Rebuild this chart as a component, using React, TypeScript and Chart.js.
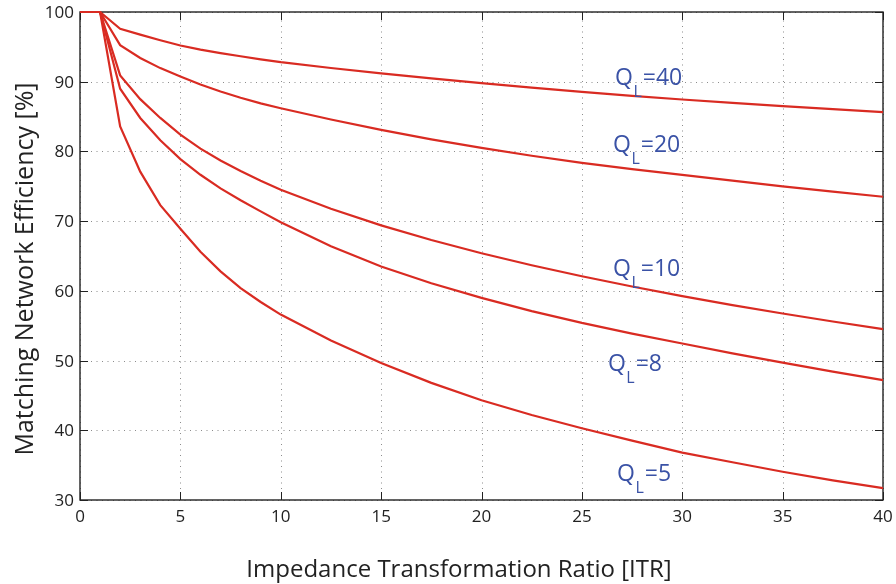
import { useEffect, useRef } from 'react';
import { Chart, registerables } from 'chart.js';

Chart.register(...registerables);

// Impedance transformation ratio (x values)
const itr = [0, 1, 2, 3, 4, 5, 6, 7, 8, 9, 10, 12.5, 15, 17.5, 20, 22.5, 25, 27.5, 30, 32.5, 35, 37.5, 40];

// Matching network efficiency [%] for each loaded Q
const effQL40 = [100, 100, 97.6, 96.75, 95.95, 95.2, 94.6, 94.1, 93.65, 93.2, 92.8, 91.97, 91.2, 90.48, 89.8, 89.16, 88.55, 87.98, 87.45, 86.97, 86.5, 86.07, 85.65];
const effQL20 = [100, 100, 95.25, 93.4, 91.95, 90.75, 89.6, 88.6, 87.7, 86.9, 86.2, 84.58, 83.1, 81.74, 80.5, 79.38, 78.35, 77.47, 76.65, 75.81, 75.0, 74.23, 73.5];
const effQL10 = [100, 100, 90.9, 87.5, 84.8, 82.4, 80.4, 78.7, 77.2, 75.8, 74.5, 71.78, 69.4, 67.29, 65.4, 63.68, 62.1, 60.63, 59.25, 57.96, 56.75, 55.6, 54.5];
const effQL8 = [100, 100, 89.0, 84.8, 81.6, 78.9, 76.65, 74.7, 73.0, 71.4, 69.85, 66.4, 63.5, 61.1, 59.0, 57.1, 55.4, 53.87, 52.45, 51.04, 49.7, 48.41, 47.2];
const effQL5 = [100, 100, 83.6, 77.1, 72.3, 68.9, 65.6, 62.8, 60.4, 58.4, 56.6, 52.87, 49.65, 46.8, 44.3, 42.19, 40.3, 38.52, 36.8, 35.42, 34.05, 32.82, 31.7];

const qlNames = ['40', '20', '10', '8', '5'];
const xTickValues = [0, 5, 10, 15, 20, 25, 30, 35, 40];
const yTickValues = [30, 40, 50, 60, 70, 80, 90, 100];
const xTickLabels = ['0', '5', '10', '15', '20', '25', '30', '35', '40'];
const yTickLabels = ['30', '40', '50', '60', '70', '80', '90', '100'];

const xTitle = 'Impedance Transformation Ratio [ITR]';
const yTitle = 'Matching Network Efficiency [%]';

// label anchors in data units (left edge of "Q", text baseline)
const labelAnchorX = [26.65, 26.55, 26.55, 26.3, 26.75];
const labelAnchorY = [89.5, 79.9, 62.1, 48.5, 32.75];

const FONT = "'Open Sans', 'DejaVu Sans', sans-serif";
const RED = '#d92b22';
const BLUE = '#3a52a6';
const INK = '#222222';

const framePlugin = {
  id: 'frame',
  beforeDatasetsDraw(chart: any) {
    const { ctx, chartArea: a, scales } = chart;
    const xs = scales.x;
    const ys = scales.y;
    ctx.save();
    // dotted grid
    ctx.strokeStyle = '#8c8c8c';
    ctx.lineWidth = 1;
    ctx.setLineDash([1, 4.5]);
    xTickValues.forEach((v) => {
      const px = Math.round(xs.getPixelForValue(v)) + 0.5;
      ctx.beginPath();
      ctx.moveTo(px, a.bottom);
      ctx.lineTo(px, a.top);
      ctx.stroke();
    });
    yTickValues.forEach((v) => {
      const py = Math.round(ys.getPixelForValue(v)) + 0.5;
      ctx.beginPath();
      ctx.moveTo(a.left, py);
      ctx.lineTo(a.right, py);
      ctx.stroke();
    });
    ctx.setLineDash([]);
    // inward tick marks
    ctx.strokeStyle = INK;
    ctx.lineWidth = 1;
    const tl = 8;
    xTickValues.forEach((v) => {
      const px = Math.round(xs.getPixelForValue(v)) + 0.5;
      ctx.beginPath();
      ctx.moveTo(px, a.bottom);
      ctx.lineTo(px, a.bottom - tl);
      ctx.moveTo(px, a.top);
      ctx.lineTo(px, a.top + tl);
      ctx.stroke();
    });
    yTickValues.forEach((v) => {
      const py = Math.round(ys.getPixelForValue(v)) + 0.5;
      ctx.beginPath();
      ctx.moveTo(a.left, py);
      ctx.lineTo(a.left + tl, py);
      ctx.moveTo(a.right, py);
      ctx.lineTo(a.right - tl, py);
      ctx.stroke();
    });
    // box
    ctx.lineWidth = 1.4;
    ctx.strokeRect(a.left, a.top, a.right - a.left, a.bottom - a.top);

    // tick labels
    ctx.fillStyle = INK;
    ctx.font = `17px ${FONT}`;
    ctx.textBaseline = 'alphabetic';
    ctx.textAlign = 'center';
    xTickValues.forEach((v, i) => {
      ctx.fillText(xTickLabels[i], xs.getPixelForValue(v), a.bottom + 22);
    });
    ctx.textAlign = 'right';
    yTickValues.forEach((v, i) => {
      ctx.fillText(yTickLabels[i], a.left - 6, ys.getPixelForValue(v) + 6);
    });
    ctx.restore();
  },
  afterDatasetsDraw(chart: any) {
    const { ctx, scales } = chart;
    const xs = scales.x;
    const ys = scales.y;
    ctx.save();
    ctx.fillStyle = BLUE;
    ctx.textBaseline = 'alphabetic';
    ctx.textAlign = 'left';
    qlNames.forEach((name, i) => {
      const x0 = xs.getPixelForValue(labelAnchorX[i]);
      const y0 = ys.getPixelForValue(labelAnchorY[i]);
      ctx.font = `23px ${FONT}`;
      ctx.fillText('Q', x0, y0);
      const wQ = ctx.measureText('Q').width;
      ctx.font = `16px ${FONT}`;
      ctx.fillText('L', x0 + wQ + 0.5, y0 + 12);
      const wL = ctx.measureText('L').width;
      ctx.font = `23px ${FONT}`;
      ctx.fillText('=' + name, x0 + wQ + wL + 1.5, y0);
    });
    // axis titles
    ctx.fillStyle = INK;
    ctx.textAlign = 'center';
    ctx.font = `24px ${FONT}`;
    ctx.fillText(xTitle, 459, 577);
    ctx.translate(33, 269);
    ctx.rotate(-Math.PI / 2);
    ctx.font = `25px ${FONT}`;
    ctx.fillText(yTitle, 0, 0);
    ctx.restore();
  },
};

export default function App() {
  const ref = useRef<HTMLCanvasElement | null>(null);
  useEffect(() => {
    if (!ref.current) return;
    const mk = (vals: number[], i: number) => ({
      label: 'Q_L=' + qlNames[i],
      data: itr.map((x, k) => ({ x, y: vals[k] })),
      borderColor: RED,
      backgroundColor: RED,
      borderWidth: 2.2,
      pointRadius: 0,
      tension: 0,
      fill: false,
      clip: 6,
    });
    const chart = new Chart(ref.current, {
      type: 'line',
      data: {
        datasets: [
          mk(effQL40, 0),
          mk(effQL20, 1),
          mk(effQL10, 2),
          mk(effQL8, 3),
          mk(effQL5, 4),
        ],
      },
      options: {
        animation: false,
        responsive: false,
        maintainAspectRatio: false,
        layout: { padding: { top: 12, right: 13, left: 0, bottom: 0 } },
        plugins: {
          legend: { display: false },
          tooltip: { enabled: false },
          title: { display: false },
        },
        scales: {
          x: {
            type: 'linear',
            min: 0,
            max: 40,
            afterFit: (s: any) => {
              s.height = 84;
            },
            afterBuildTicks: (s: any) => {
              s.ticks = xTickValues.map((v) => ({ value: v }));
            },
            grid: { display: false, drawTicks: false },
            border: { display: false },
            ticks: { display: false },
          },
          y: {
            type: 'linear',
            min: 30,
            max: 100,
            afterFit: (s: any) => {
              s.width = 80;
            },
            afterBuildTicks: (s: any) => {
              s.ticks = yTickValues.map((v) => ({ value: v }));
            },
            grid: { display: false, drawTicks: false },
            border: { display: false },
            ticks: { display: false },
          },
        },
      },
      plugins: [framePlugin],
    });
    return () => chart.destroy();
  }, []);
  return (
    <div style={{ position: 'fixed', left: 0, top: 0, width: 896, height: 584, background: '#fff' }}>
      <canvas ref={ref} width={896} height={584} style={{ display: 'block' }} />
    </div>
  );
}
